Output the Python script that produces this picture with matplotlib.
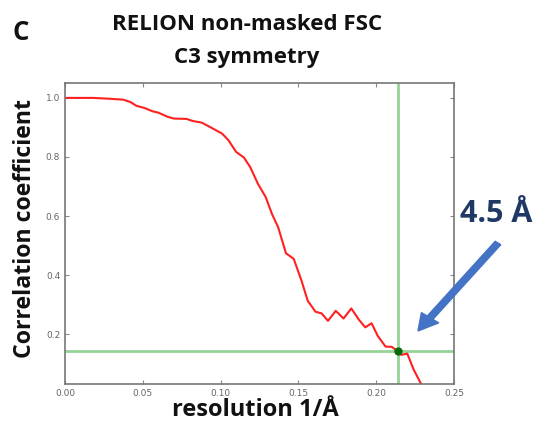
import numpy as np
import matplotlib
matplotlib.use("Agg")
import matplotlib.pyplot as plt

# FSC curve
resolution = [0.000, 0.018, 0.029, 0.0375, 0.042, 0.046, 0.051, 0.056, 0.060, 0.066,
              0.070, 0.078, 0.082, 0.088, 0.093, 0.101, 0.105, 0.110, 0.115, 0.119,
              0.124, 0.129, 0.133, 0.137, 0.142, 0.147, 0.152, 0.156, 0.161, 0.165,
              0.169, 0.174, 0.179, 0.184, 0.189, 0.193, 0.197, 0.201, 0.206, 0.210,
              0.214, 0.216, 0.220, 0.224, 0.229]
fsc = [1.000, 1.000, 0.997, 0.994, 0.986, 0.973, 0.966, 0.955, 0.950, 0.936,
       0.930, 0.929, 0.922, 0.916, 0.902, 0.879, 0.857, 0.817, 0.798, 0.766,
       0.709, 0.664, 0.607, 0.562, 0.474, 0.455, 0.381, 0.313, 0.276, 0.270,
       0.245, 0.279, 0.253, 0.287, 0.248, 0.223, 0.237, 0.194, 0.158, 0.157,
       0.141, 0.130, 0.134, 0.081, 0.030]
threshold = 0.143
cutoff = 0.214
xticks = [0.00, 0.05, 0.10, 0.15, 0.20, 0.25]
yticks = [0.2, 0.4, 0.6, 0.8, 1.0]

fig = plt.figure(figsize=(5.36, 4.33), dpi=100)
ax = fig.add_axes([0.1213, 0.113, 0.7257, 0.695])

ax.axhline(threshold, color="#96d396", lw=2, zorder=1)
ax.axvline(cutoff, color="#96d396", lw=2, zorder=1)
ax.plot(resolution, fsc, color="#ff2020", lw=1.5, zorder=2)
ax.plot([cutoff], [threshold], "o", color="#0a6a0a", ms=5, zorder=3)

ax.set_xlim(0, 0.25)
ax.set_ylim(0.031, 1.05)
ax.set_xticks(xticks)
ax.set_yticks(yticks)
ax.set_xticklabels(["%.2f" % v for v in xticks])
ax.set_yticklabels(["%.1f" % v for v in yticks])
ax.tick_params(direction="in", top=True, right=True, labelsize=6.5,
               labelcolor="#666666", color="#888888", length=3)
for s in ax.spines.values():
    s.set_color("#777777")
    s.set_linewidth(1.2)

bold = dict(family=["Open Sans", "DejaVu Sans"], fontweight="bold", color="#111111")
fig.text(247 / 536, 1 - 24 / 433, "RELION non-masked FSC", ha="center", va="center",
         fontsize=16, **bold)
fig.text(247 / 536, 1 - 57 / 433, "C3 symmetry", ha="center", va="center",
         fontsize=16, **bold)
fig.text(21 / 536, 1 - 33 / 433, "C", ha="center", va="center", fontsize=18.5, **bold)
fig.text(25 / 536, 1 - 228 / 433, "Correlation coefficient", rotation=90,
         ha="center", va="center", fontsize=16.7, **bold)
fig.text(255 / 536, 1 - 410 / 433, "resolution 1/Å", ha="center", va="center",
         fontsize=17, **bold)

fig.text(496 / 536, 1 - 214 / 433, "4.5 Å", ha="center", va="center", fontsize=22,
         family=["Open Sans", "DejaVu Sans"], fontweight="bold", color="#1f3864")
fig.patches.append(matplotlib.patches.FancyArrow(
    498 / 536, 1 - 243 / 433, (418 - 498) / 536, -(331 - 243) / 433,
    width=0.013, head_width=0.04, head_length=0.038, length_includes_head=True,
    color="#4472c4", transform=fig.transFigure, figure=fig))

fig.savefig("out.png", dpi=100)
